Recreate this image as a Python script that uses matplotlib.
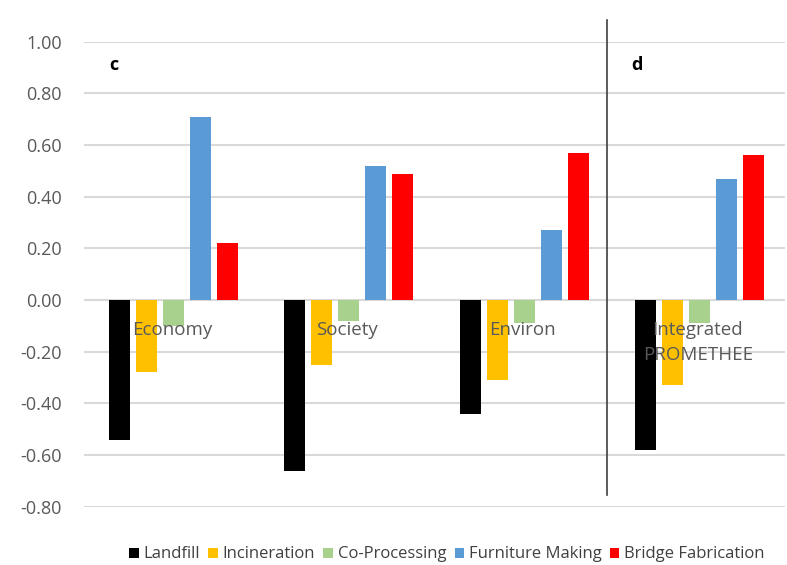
import matplotlib.pyplot as plt
import numpy as np
from matplotlib.lines import Line2D

plt.rcParams['font.family'] = ['Open Sans', 'DejaVu Sans']

categories = ['Economy', 'Society', 'Environ', 'Integrated\nPROMETHEE']
series = ['Landfill', 'Incineration', 'Co-Processing', 'Furniture Making', 'Bridge Fabrication']
colors = ['#000000', '#FFC000', '#A9D18E', '#5B9BD5', '#FF0000']

landfill = [-0.54, -0.66, -0.44, -0.58]
incineration = [-0.28, -0.25, -0.31, -0.33]
co_processing = [-0.10, -0.08, -0.09, -0.09]
furniture = [0.71, 0.52, 0.27, 0.47]
bridge = [0.22, 0.49, 0.57, 0.56]
values = [landfill, incineration, co_processing, furniture, bridge]

yticks = np.round(np.arange(-0.8, 1.01, 0.2), 2)

fig = plt.figure(figsize=(7.87, 5.65), dpi=100)
ax = fig.add_axes([0.107, 0.103, 0.891, 0.823])

x = np.arange(len(categories))
width = 0.12
pitch = 0.154
for i, (name, vals) in enumerate(zip(series, values)):
    ax.bar(x + (i - 2) * pitch + 0.01, vals, width, color=colors[i], label=name, zorder=3)

ax.set_xlim(-0.5, len(categories) - 0.5)
ax.set_ylim(-0.8, 1.0)
ax.set_yticks(yticks)
ax.set_yticklabels(['{:.2f}'.format(v + 0.0) for v in yticks], color='#595959', fontsize=13)
ax.tick_params(axis='y', length=0, pad=16)
ax.set_xticks([])
ax.grid(axis='y', color='#d9d9d9', linewidth=1.5, zorder=0)
for s in ax.spines.values():
    s.set_visible(False)

for xi, cat in zip(x, categories):
    ax.text(xi, -0.08, cat, ha='center', va='top', color='#595959', fontsize=13.5,
            linespacing=1.5, zorder=4)

ax.text(-0.36, 0.91, 'c', fontsize=13, fontweight='bold', va='center')
ax.text(2.62, 0.91, 'd', fontsize=13, fontweight='bold', va='center')

fig.add_artist(Line2D([607 / 787, 607 / 787], [1 - 20 / 565, 1 - 495 / 565],
                      color='#404040', linewidth=1.2, transform=fig.transFigure))

fig.legend(loc='lower center', bbox_to_anchor=(0.568, -0.022), ncol=5, frameon=False,
           fontsize=12, handlelength=0.55, handleheight=0.55, handletextpad=0.3,
           columnspacing=0.5, labelcolor='#404040')

fig.savefig('out.png', dpi=100)
